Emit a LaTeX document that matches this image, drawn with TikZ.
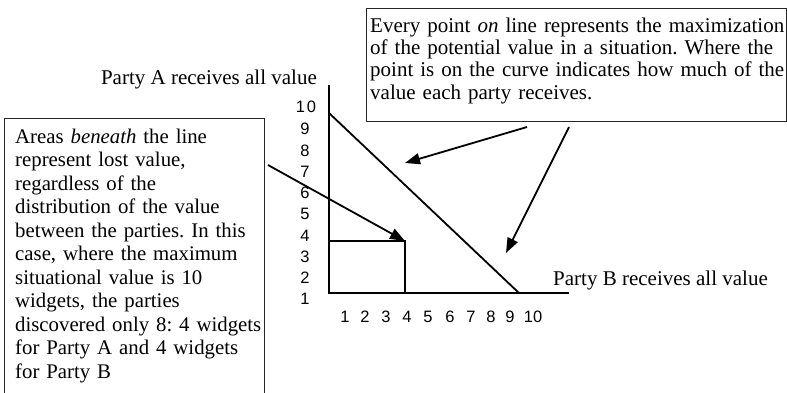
\documentclass[tikz,border=0pt]{standalone}
\usepackage{fontspec}
\setmainfont{Liberation Serif}
\setsansfont{Liberation Sans}
\usetikzlibrary{arrows.meta}
\frenchspacing
\begin{document}
\begin{tikzpicture}[x=1pt,y=-1pt,
  boxline/.style={draw=black!85,line width=1.1pt},
  txt/.style={inner sep=0pt,align=left,anchor=base west},
  thick line/.style={line width=1.8pt},
  pointer/.style={line width=1.8pt,-{Triangle[length=15pt,width=11pt]}},
  tick/.style={font=\sffamily\fontsize{16.5}{17}\selectfont,inner sep=0pt},
  axislabel/.style={font=\fontsize{21}{23}\selectfont,inner sep=0pt}]
\useasboundingbox (0,0) rectangle (787,392);
% boxes
\node[boxline,anchor=north west,minimum width=260pt,minimum height=279pt,inner sep=0pt] (boxL) at (4,118) {};
\node[boxline,anchor=north west,minimum width=420pt,minimum height=113pt,inner sep=0pt] (boxT) at (366,8) {};
\node[txt,text width=255pt,font=\fontsize{20.8}{23.5}\selectfont] (txtL) at (15,143)
 {Areas \textit{beneath} the line\\ represent lost value,\\ regardless of the\\ distribution of the value\\ between the parties. In this\\ case, where the maximum\\ situational value is 10\\ widgets, the parties\\ discovered only 8: 4 widgets\\ for Party A and 4 widgets\\ for Party B};
\node[txt,text width=416pt,font=\fontsize{21}{22.4}\selectfont] (txtT) at (370,32)
 {Every point \textit{on} line represents the maximization\\ of the potential value in a situation. Where the\\ point is on the curve indicates how much of the\\ value each party receives.};
% axes
\coordinate (O) at (329,293);
\coordinate (Ytop) at (329,85);
\coordinate (Xend) at (569,293);
\coordinate (D1) at (329,113);
\coordinate (D2) at (519,293);
\coordinate (Sq) at (405,241);
\draw[thick line] (Ytop) -- (O) -- (Xend);
\draw[thick line] (D1) -- (D2);
\draw[line width=1.6pt] (O |- Sq) -- (Sq) -- (Sq |- O);
% axis labels
\node[axislabel,anchor=base east] (pa) at (317,84) {Party A receives all value};
\node[axislabel,anchor=base west] (pb) at (553,285) {Party B receives all value};
% y ticks
\foreach \v/\y in {9/129,8/151,7/172,6/193,5/214,4/236,3/257,2/278,1/299}
  \node[tick] (y\v) at (305,\y) {\v};
\node[tick] (y10) at (306,107) {1\kern2pt 0};
% x ticks
\foreach \v/\x in {1/345,2/365,3/386,4/407,5/428,6/450,7/471,8/491,9/510,10/533}
  \node[tick] (x\v) at (\x,317) {\v};
% arrows
\coordinate (a1s) at (268,165);
\coordinate (a2s) at (527,127);
\coordinate (a2e) at (405,163);
\coordinate (a3s) at (569,127);
\coordinate (a3e) at (506,253);
\draw[pointer] (a1s) -- (Sq);
\draw[pointer] (a2s) -- (a2e);
\draw[pointer] (a3s) -- (a3e);
\end{tikzpicture}
\end{document}
